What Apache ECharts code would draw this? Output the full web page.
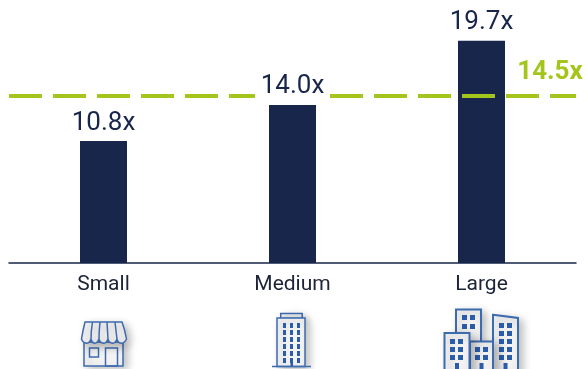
<!DOCTYPE html>
<html>
<head>
<meta charset="utf-8">
<style>html,body{margin:0;padding:0;background:#fff}#chart{width:587px;height:369px}</style>
<script src="https://cdn.jsdelivr.net/npm/echarts@6/dist/echarts.min.js"></script>
</head>
<body>
<div id="chart"></div>
<script>
// Valuation multiple by company size, with the overall average as a benchmark.
const categories = ['Small', 'Medium', 'Large'];
const multiples = [10.8, 14.0, 19.7];
const averageMultiple = 14.5;
// The benchmark rule is interrupted around the middle value label.
const benchmarkSpans = [[0, 246], [321, 567]];

const NAVY = '#17264a';
const GREEN = '#a4c61c';
const ICON_LINE = '#3d6bb0';
const ICON_FILL = '#2a5ca8';
const ICON_BODY = '#f3f3f4';
const fmt = v => v.toFixed(1) + 'x';

// Shop awning outline with its scalloped edge and curved ribs
echarts.graphic.registerShape('awning', echarts.graphic.extendPath(
  'M85 322 L122 322 Q125 330 126.5 339 Q124 344 120.5 343 Q118 343 117 339 Q115 344 112 343 Q109 343 108 339 Q106 344 103 343 Q100 343 99 339 Q97 344 94 343 Q92 343 91 339 Q89 344 86 343 Q83 343 81.5 339 Q83 330 85 322 Z M92.5 322 Q91 331 91 339 M100 322 Q99 331 99 339 M107 322 Q107.5 331 108 339 M115 322 Q116 331 117 339'
));

// Icon helpers
const shadow = { shadowBlur: 9, shadowColor: 'rgba(0,0,0,0.25)', shadowOffsetX: 4, shadowOffsetY: 3 };
const body = (x, y, width, height, lineWidth, z2) => ({
  type: 'rect', z2, shape: { x, y, width, height },
  style: { fill: ICON_BODY, stroke: ICON_LINE, lineWidth, ...shadow }
});
const outline = (x, y, width, height) => ({
  type: 'rect', z2: 2, shape: { x, y, width, height },
  style: { fill: 'none', stroke: ICON_LINE, lineWidth: 1.5 }
});
const panes = (xs, ys, width, height, z2) => xs.flatMap(x => ys.map(y => ({
  type: 'rect', z2, shape: { x, y, width, height }, style: { fill: ICON_FILL }
})));

// Shop front
const shopIcon = [
  body(84, 342, 39, 24, 1.5, 1),
  outline(89.5, 348, 9, 9),
  outline(105.5, 348, 12, 18),
  { type: 'awning', z2: 3, style: { fill: ICON_BODY, stroke: ICON_LINE, lineWidth: 1.5, ...shadow } }
];

// Office tower
const towerIcon = [
  body(280.7, 313.5, 21.5, 5, 1.5, 1),
  body(277, 318, 28, 48.5, 1.5, 2),
  { type: 'line', z2: 3, shape: { x1: 272, y1: 366.5, x2: 311, y2: 366.5 }, style: { stroke: ICON_LINE, lineWidth: 1.5 } },
  ...panes([283, 290, 297], [323, 330, 337, 344, 351, 358], 3, 5, 3),
  { type: 'rect', z2: 3, shape: { x: 290.5, y: 358, width: 2.5, height: 8 }, style: { fill: ICON_FILL } }
];

// City block
const cityIcon = [
  body(456, 309.5, 25, 34, 2, 1),
  ...panes([462, 470], [315, 324], 5, 5, 2),
  {
    type: 'polygon', z2: 2,
    shape: { points: [[493, 314.8], [518, 318], [518, 372], [493, 372]] },
    style: { fill: ICON_BODY, stroke: ICON_LINE, lineWidth: 2, ...shadow }
  },
  ...panes([499, 507], [323, 331, 339, 347, 355], 5, 5, 3),
  body(470, 341.5, 23, 32, 2, 4),
  ...panes([475, 483], [347, 355], 5, 5, 5),
  body(444.5, 333, 25, 40, 2, 6),
  ...panes([450, 458], [339, 347, 355], 5, 5, 7),
  ...[455, 479.5, 503.5].map(x => ({
    type: 'rect', z2: 8, shape: { x, y: 363, width: 4, height: 6 }, style: { fill: ICON_FILL }
  }))
];

const chart = echarts.init(document.getElementById('chart'), null, { renderer: 'canvas' });
chart.setOption({
  animation: false,
  textStyle: { fontFamily: 'Roboto' },
  grid: { left: 9, width: 567, top: 0, height: 263 },
  xAxis: [
    {
      type: 'category',
      data: categories,
      axisTick: { show: false },
      axisLine: { lineStyle: { color: NAVY, width: 1.5 } },
      axisLabel: { color: '#1c2438', fontSize: 21, fontFamily: 'Roboto', margin: 11 }
    },
    { type: 'value', min: 0, max: 567, show: false, splitLine: { show: false } }
  ],
  yAxis: [
    { type: 'value', min: 0, max: 23.3, show: false, splitLine: { show: false } },
    { type: 'value', min: 0, max: 22.83, show: false, splitLine: { show: false } }
  ],
  series: [
    {
      name: 'Multiple',
      type: 'bar',
      z: 1,
      barWidth: 47,
      data: multiples,
      itemStyle: { color: NAVY }
    },
    ...benchmarkSpans.map(([from, to]) => ({
      name: 'Average',
      type: 'line',
      xAxisIndex: 1,
      yAxisIndex: 1,
      z: 2,
      symbol: 'none',
      data: [[from, averageMultiple], [to, averageMultiple]],
      lineStyle: { color: GREEN, width: 4, type: [33, 11], cap: 'butt' }
    })),
    {
      name: 'Average label',
      type: 'scatter',
      xAxisIndex: 1,
      yAxisIndex: 1,
      z: 3,
      symbolSize: 0,
      itemStyle: { opacity: 1 },
      data: [[567, averageMultiple]],
      label: {
        show: true,
        position: 'top',
        distance: 0,
        offset: [-26, -10],
        formatter: p => fmt(p.value[1]),
        color: GREEN,
        fontSize: 26,
        fontWeight: 'bold',
        fontFamily: 'Roboto'
      }
    },
    {
      name: 'Labels',
      type: 'scatter',
      z: 3,
      symbolSize: 0,
      itemStyle: { opacity: 1 },
      data: multiples,
      label: {
        show: true,
        position: 'top',
        distance: 5,
        formatter: p => fmt(p.value),
        color: NAVY,
        fontSize: 26,
        fontFamily: 'Roboto'
      }
    }
  ],
  graphic: { elements: [
    { type: 'group', silent: true, children: shopIcon },
    { type: 'group', silent: true, children: towerIcon },
    { type: 'group', silent: true, children: cityIcon }
  ] }
});
</script>
</body>
</html>
